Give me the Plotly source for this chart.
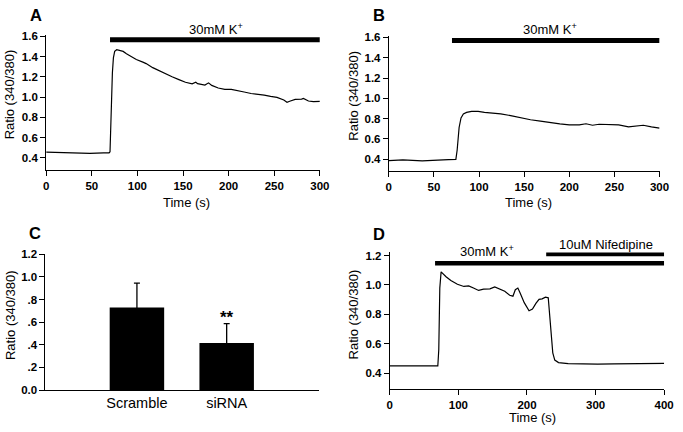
import plotly.graph_objects as go

# ---------------- data ----------------
time_a = [0, 16, 30, 48, 63, 69, 70, 71.1, 72.6, 73.7,
          75.1, 77.3, 80.8, 84.4, 88, 93.4, 98.8, 106, 109.6, 116.8,
          124, 131, 138, 145.5, 152.7, 160, 164, 166, 169, 174,
          178, 181.5, 188.6, 195.8, 203, 210, 217, 224.6, 231.8, 239,
          246, 253, 260.5, 264, 267.7, 273, 280, 282, 287.5, 293, 300]
ratio_a = [0.457, 0.451, 0.445, 0.445, 0.451, 0.451, 0.46, 0.86, 1.24, 1.386,
           1.45, 1.466, 1.459, 1.45, 1.427, 1.395, 1.37, 1.344, 1.33, 1.29,
           1.258, 1.226, 1.2, 1.172, 1.146, 1.13, 1.146, 1.132, 1.124, 1.118,
           1.14, 1.115, 1.089, 1.076, 1.076, 1.06, 1.05, 1.035, 1.028, 1.019,
           1.006, 0.997, 0.971, 0.949, 0.961, 0.977, 0.98, 0.987, 0.961, 0.955, 0.958]

time_b = [0, 15.6, 37, 52, 66, 74.3, 75.7, 77.9, 80, 82.6,
          86.2, 91.7, 99, 106, 113, 124, 135, 146, 157, 168,
          178.6, 189.5, 200, 211, 218.5, 225.7, 233, 244, 254.7, 265.6,
          272.8, 282, 291, 300]
ratio_b = [0.387, 0.394, 0.384, 0.394, 0.397, 0.4, 0.489, 0.713, 0.808, 0.847,
           0.862, 0.872, 0.872, 0.862, 0.856, 0.847, 0.83, 0.808, 0.789, 0.776,
           0.76, 0.748, 0.738, 0.738, 0.75, 0.735, 0.745, 0.738, 0.738, 0.719,
           0.725, 0.735, 0.719, 0.706]

conditions = ["Scramble", "siRNA"]
mean_c = [0.73, 0.415]
err_c = [0.215, 0.172]
signif_c = ["", "**"]

time_d = [0, 41, 70, 71.4, 72.9, 74.8, 77, 82, 89, 98.6,
          108, 115, 122, 129.5, 136.7, 146, 153, 160.5, 167.6, 174.8,
          179.5, 183, 186.7, 190, 196, 203, 208, 213, 217.6, 222,
          227, 231, 233, 235, 237.6, 240.5, 246, 260, 279.5, 303,
          327, 356, 379.5, 400]
ratio_d = [0.45, 0.448, 0.45, 0.56, 0.98, 1.089, 1.078, 1.056, 1.03, 1.005,
           0.99, 0.994, 0.979, 0.963, 0.972, 0.974, 0.987, 0.972, 0.957, 0.93,
           0.924, 0.968, 0.979, 0.946, 0.88, 0.825, 0.836, 0.875, 0.902, 0.906,
           0.917, 0.913, 0.803, 0.65, 0.539, 0.49, 0.473, 0.466, 0.462, 0.462,
           0.464, 0.466, 0.466, 0.468]

# treatment periods (start, end) in seconds
k_period_a = [70, 300]
k_period_b = [70, 300]
k_period_d = [66, 400]
nif_period_d = [228, 400]

# ---------------- figure ----------------
W, H = 683, 432
FONT = "Liberation Sans, Arial, sans-serif"

def px(x):
    return x / W

def py(y):
    return 1 - y / H

fig = go.Figure()
line = dict(color="black", width=1.2)
fig.add_trace(go.Scatter(x=time_a, y=ratio_a, mode="lines", line=line, xaxis="x", yaxis="y"))
fig.add_trace(go.Scatter(x=time_b, y=ratio_b, mode="lines", line=line, xaxis="x2", yaxis="y2"))
# error bars: upward SEM only (downward part hidden inside the black bar)
fig.add_trace(go.Bar(x=conditions, y=mean_c, width=0.607, marker=dict(color="black", line=dict(width=0)),
                     error_y=dict(type="data", symmetric=False, array=err_c, arrayminus=mean_c,
                                  color="black", thickness=1.3, width=3),
                     xaxis="x3", yaxis="y3"))
fig.add_trace(go.Scatter(x=time_d, y=ratio_d, mode="lines", line=line, xaxis="x4", yaxis="y4"))

tickfont = dict(family=FONT, size=11.5, color="black", weight="bold")
ax_common = dict(showline=True, linecolor="black", linewidth=1, ticks="outside", ticklen=5,
                 tickcolor="black", tickwidth=1, showgrid=False, zeroline=False,
                 tickfont=tickfont, fixedrange=True)

fig.update_layout(
    width=W, height=H, margin=dict(l=0, r=0, t=0, b=0),
    paper_bgcolor="white", plot_bgcolor="white", showlegend=False,
    font=dict(family=FONT, color="black"),
    xaxis=dict(ax_common, domain=[px(44), px(323)], range=[0, 300], tickvals=[0, 50, 100, 150, 200, 250, 300],
               anchor="y"),
    yaxis=dict(ax_common, domain=[py(168.5), py(30)], range=[0.283, 1.61],
               tickvals=[0.4, 0.6, 0.8, 1.0, 1.2, 1.4, 1.6], ticktext=["0.4", "0.6", "0.8", "1.0", "1.2", "1.4", "1.6"],
               anchor="x"),
    xaxis2=dict(ax_common, domain=[px(393.3), px(669.3)], range=[0, 300], tickvals=[0, 50, 100, 150, 200, 250, 300],
                anchor="y2"),
    yaxis2=dict(ax_common, domain=[py(169.5), py(31)], range=[0.287, 1.612],
                tickvals=[0.4, 0.6, 0.8, 1.0, 1.2, 1.4, 1.6], ticktext=["0.4", "0.6", "0.8", "1.0", "1.2", "1.4", "1.6"],
                anchor="x2"),
    xaxis3=dict(ax_common, domain=[px(43.3), px(321.7)], range=[-1.019, 2.024], ticks="",
                tickfont=dict(family=FONT, size=14.5, color="black"), anchor="y3"),
    yaxis3=dict(ax_common, domain=[py(395), py(255.3)], range=[0, 1.2],
                tickvals=[0, 0.2, 0.4, 0.6, 0.8, 1.0, 1.2], ticktext=["0.0", ".2", ".4", ".6", ".8", "1.0", "1.2"],
                anchor="x3"),
    xaxis4=dict(ax_common, domain=[px(394.3), px(674)], range=[0, 400], tickvals=[0, 100, 200, 300, 400],
                anchor="y4"),
    yaxis4=dict(ax_common, domain=[py(394.3), py(253.5)], range=[0.291, 1.221],
                tickvals=[0.4, 0.6, 0.8, 1.0, 1.2], ticktext=["0.4", "0.6", "0.8", "1.0", "1.2"],
                anchor="x4"),
)

# treatment bars
shapes = [
    dict(type="line", xref="x", yref="y", x0=k_period_a[0], x1=k_period_a[1], y0=1.565, y1=1.565,
         line=dict(color="black", width=5)),
    dict(type="line", xref="x2", yref="y2", x0=k_period_b[0], x1=k_period_b[1], y0=1.57, y1=1.57,
         line=dict(color="black", width=5)),
    dict(type="line", xref="x4", yref="y4", x0=k_period_d[0], x1=k_period_d[1], y0=1.148, y1=1.148,
         line=dict(color="black", width=4.5)),
    dict(type="line", xref="x4", yref="y4", x0=nif_period_d[0], x1=nif_period_d[1], y0=1.21, y1=1.21,
         line=dict(color="black", width=4.5)),
]
fig.update_layout(shapes=shapes)

ann = []
def text(x, y, s, size=12, bold=False, angle=0):
    ann.append(dict(x=px(x), y=py(y), xref="paper", yref="paper", text=s, showarrow=False,
                    xanchor="center", yanchor="middle", textangle=angle,
                    font=dict(family=FONT, size=size, color="black", weight="bold" if bold else "normal")))

# panel letters
text(34, 9, "A", 16.5, True)
text(383, 9, "B", 16.5, True)
text(33, 234, "C", 16.5, True)
text(383, 235, "D", 16.5, True)
# treatment labels
text(217, 24, "30mM K<sup>+</sup>", 13)
text(558, 24, "30mM K<sup>+</sup>", 13)
text(493, 252, "30mM K<sup>+</sup>", 13)
text(615, 245, "10uM Nifedipine", 13)
# axis titles
text(187, 202, "Time (s)", 13)
text(536, 202, "Time (s)", 13)
text(540, 423, "Time (s)", 13)
text(7, 91, "Ratio (340/380)", 13, angle=-90)
text(357, 92, "Ratio (340/380)", 13, angle=-90)
text(7, 318, "Ratio (340/380)", 13, angle=-90)
text(357, 317, "Ratio (340/380)", 13, angle=-90)
fig.update_layout(annotations=ann)

# significance marks above error bars (data-referenced)
for c, m, e, s in zip(conditions, mean_c, err_c, signif_c):
    if s:
        fig.add_annotation(x=c, y=m + e, xref="x3", yref="y3", text=s, showarrow=False,
                           yanchor="bottom", yshift=-5,
                           font=dict(family=FONT, size=17, color="black", weight="bold"))

fig.write_html("out.html", config={"displayModeBar": False},
               post_script="document.body.style.margin='0';")
